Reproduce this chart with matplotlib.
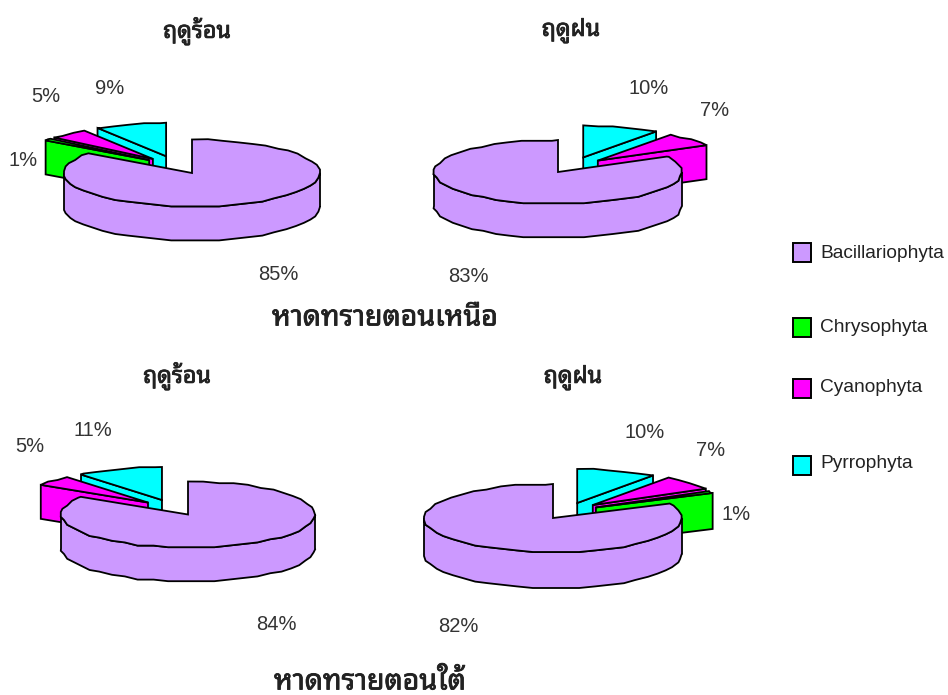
import matplotlib
matplotlib.use("Agg")
import matplotlib.pyplot as plt
from matplotlib.patches import Polygon, Rectangle
import matplotlib.patheffects as pe
import numpy as np

species = ["Bacillariophyta", "Chrysophyta", "Cyanophyta", "Pyrrophyta"]
colors = ["#CC99FF", "#00FF00", "#FF00FF", "#00FFFF"]

north_hot = [85, 1, 5, 9]
north_rain = [83, 0, 7, 10]
south_hot = [84, 0, 5, 11]
south_rain = [82, 1, 7, 10]

plt.rcParams["font.family"] = ["Liberation Sans", "DejaVu Sans"]

STEP = 7
GRID = 1.6


def arc(cx, cy, rx, ry, a0, a1):
    # rim points are rounded to a coarse grid, which gives the bumpy edge
    inner = np.arange(np.ceil(a0 / STEP + 1e-6), np.floor(a1 / STEP - 1e-6) + 1) * STEP
    t = np.radians(inner)
    x = np.round((cx + rx * np.sin(t)) / GRID) * GRID
    y = np.round((cy - ry * np.cos(t)) / GRID) * GRID
    first = np.radians(a0)
    last = np.radians(a1)
    xs = np.concatenate([[cx + rx * np.sin(first)], x, [cx + rx * np.sin(last)]])
    ys = np.concatenate([[cy - ry * np.cos(first)], y, [cy - ry * np.cos(last)]])
    return np.column_stack([xs, ys])


def wedge3d(ax, cx, cy, rx, ry, depth, a0, a1, color):
    lw = 1.3
    # radial walls that face the viewer
    for a, visible in ((a0, np.sin(np.radians(a0)) < -1e-6), (a1, np.sin(np.radians(a1)) > 1e-6)):
        if visible:
            r = np.radians(a)
            p = (cx + rx * np.sin(r), cy - ry * np.cos(r))
            wall = [(cx, cy), p, (p[0], p[1] + depth), (cx, cy + depth)]
            ax.add_patch(Polygon(wall, closed=True, fc=color, ec="black", lw=lw))
    # outer rim, only the front half shows
    lo, hi = max(a0, 90), min(a1, 270)
    if hi > lo:
        rim = arc(cx, cy, rx, ry, lo, hi)
        low = rim[::-1] + [0, depth]
        ax.add_patch(Polygon(np.vstack([rim, low]), closed=True, fc=color, ec="black", lw=lw))
    top = np.vstack([[(cx, cy)], arc(cx, cy, rx, ry, a0, a1)])
    ax.add_patch(Polygon(top, closed=True, fc=color, ec="black", lw=lw))


def pie3d(ax, values, cx, cy, rx, ry, depth, clockwise, explode):
    spans = np.array(values) / sum(values) * 360
    edges = np.concatenate([[0], np.cumsum(spans)])
    # back slices first so the big one ends up on top
    for i in range(len(values) - 1, -1, -1):
        if values[i] == 0:
            continue
        a0, a1 = edges[i], edges[i + 1]
        if not clockwise:
            a0, a1 = 360 - a1, 360 - a0
        mag, direction = explode[i]
        d = np.radians(direction)
        wedge3d(ax, cx + mag * rx * np.sin(d), cy - mag * ry * np.cos(d),
                rx, ry, depth, a0, a1, colors[i])


fig = plt.figure(figsize=(9.48, 6.95), dpi=100)
ax = fig.add_axes([0, 0, 1, 1])
ax.set_xlim(0, 948)
ax.set_ylim(695, 0)
ax.axis("off")

pie3d(ax, north_hot, 192, 173, 128, 33.5, 34, True,
      [(0, 0), (0.51, -41), (0.52, -36), (0.54, -22)])
pie3d(ax, north_rain, 558, 172, 124, 32, 34, False,
      [(0, 0), (0, 0), (0.48, 42), (0.50, 24)])
pie3d(ax, south_hot, 188, 514.5, 127, 33, 34, True,
      [(0, 0), (0, 0), (0.48, -41), (0.485, -25)])
pie3d(ax, south_rain, 553, 518, 129, 34, 36, False,
      [(0, 0), (0.455, 47), (0.49, 39), (0.48, 23)])

# percent labels, same order as the series
label_pos = [
    (north_hot, [(278, 275), (23, 161), (46, 97), (110, 88)]),
    (north_rain, [(468, 277), None, (715, 110), (649, 89)]),
    (south_hot, [(276, 624), None, (30, 447), (93, 431)]),
    (south_rain, [(458, 626), (736, 515), (711, 451), (645, 433)]),
]
for vals, spots in label_pos:
    for v, spot in zip(vals, spots):
        if spot is not None:
            ax.text(spot[0], spot[1], f"{v}%", fontsize=14.5, color="#333333",
                    ha="center", va="center")

# legend spacing is uneven so it is placed by hand
legend_y = [252, 327, 388, 465]
legend_text_y = [253, 328, 388, 464]
for name, c, y, ty in zip(species, colors, legend_y, legend_text_y):
    ax.add_patch(Rectangle((793, y - 9.5), 18, 19, fc=c, ec="black", lw=1.4))
    ax.text(820, ty, name, fontsize=13.8, color="#222222", va="center", ha="left")

thai = [
    ("ฤดูร้อน", 197, 31, 16.7),
    ("ฤดูฝน", 571, 31, 16.7),
    ("หาดทรายตอนเหนือ", 385, 318, 20.5),
    ("ฤดูร้อน", 177, 376, 16.7),
    ("ฤดูฝน", 573, 378, 16.7),
    ("หาดทรายตอนใต้", 370, 682, 20.5),
]
for s, x, y, size in thai:
    ax.text(x, y, s, fontsize=size, fontweight="bold", ha="center", va="center", color="#222222",
            family=["Noto Sans Thai Looped", "Noto Sans Thai", "DejaVu Sans"],
            path_effects=[pe.withStroke(linewidth=0.6, foreground="#222222")])

fig.savefig("out.png", dpi=100)
